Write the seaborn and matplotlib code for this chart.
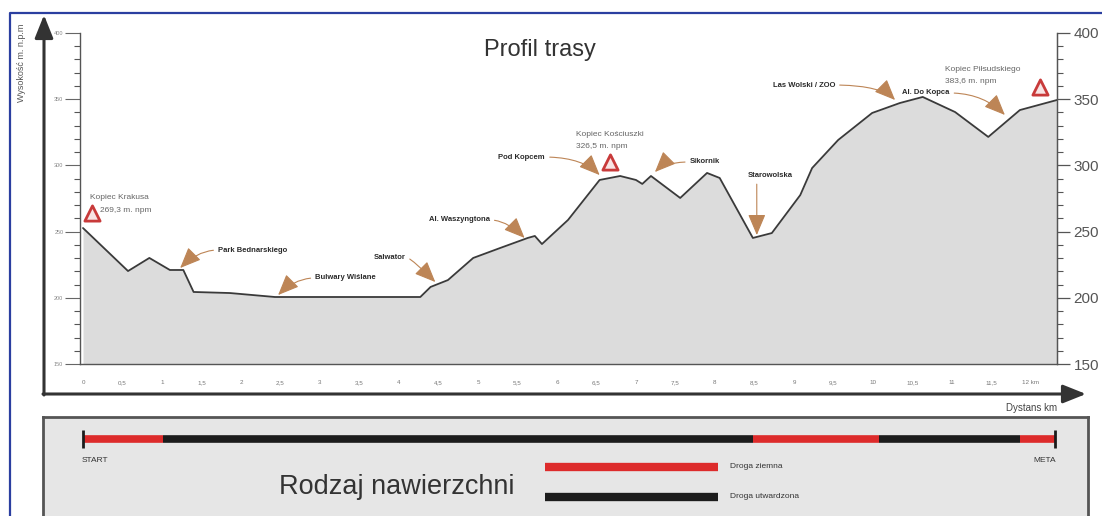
import numpy as np
import pandas as pd
import seaborn as sns
import matplotlib.pyplot as plt
from matplotlib.ticker import MultipleLocator, FixedLocator, FixedFormatter

# profil trasy: dystans [km], wysokosc [m n.p.m.]
dist_km = [0, 0.57, 0.84, 1.1, 1.27, 1.4, 1.86, 2.43, 4.27, 4.4, 4.62, 4.94,
           5.28, 5.63, 5.72, 5.81, 6.14, 6.54, 6.8, 7.0, 7.08, 7.19, 7.56,
           7.9, 8.06, 8.48, 8.72, 9.08, 9.23, 9.56, 9.99, 10.34, 10.63, 11.04,
           11.46, 11.86, 12.33]
elev_m = [252.7, 220.2, 230.1, 221, 221, 204.4, 203.6, 200.6, 200.6, 208.2,
          213.4, 230.1, 237.6, 245.2, 246.7, 240.6, 258.8, 289, 292, 289, 286,
          292, 275.4, 294.3, 290.5, 245.2, 248.9, 277.6, 298, 319.2, 339.6,
          347.1, 351.7, 340.3, 321.5, 341.8, 349.4]

# kopce
peak_names = ["Kopiec Krakusa", "Kopiec Kościuszki", "Kopiec Piłsudskiego"]
peak_heights = ["269,3 m. npm", "326,5 m. npm", "383,6 m. npm"]
peak_km = [0.11, 6.67, 12.11]
peak_mark_m = [264.0, 302.6, 359.2]

# punkty na trasie (strzalki)
place_names = ["Park Bednarskiego", "Bulwary Wiślane", "Salwator",
               "Al. Waszyngtona", "Pod Kopcem", "Sikornik", "Starowolska",
               "Las Wolski / ZOO", "Al. Do Kopca"]
place_km = [1.23, 2.47, 4.46, 5.59, 6.54, 7.24, 8.53, 10.28, 11.67]
place_m = [222.5, 202.1, 211.9, 245.2, 292.7, 295.0, 247.4, 349.4, 338.1]

# rodzaj nawierzchni
surface_start = [0, 1.01, 8.48, 10.08, 11.86]
surface_end = [1.01, 8.48, 10.08, 11.86, 12.3]
surface_type = ["Droga ziemna", "Droga utwardzona", "Droga ziemna",
                "Droga utwardzona", "Droga ziemna"]

xtick_km = [i * 0.5 for i in range(25)]
ytick_m = [150, 200, 250, 300, 350, 400]

W, H = 1102, 516
RED = "#dd2b2b"
BLACK = "#1c1c1c"
ARROW = "#bd8556"


def box(x0, y0, x1, y1):
    # pozycja osi w pikselach obrazka -> ulamki figury
    return [x0 / W, 1 - y1 / H, (x1 - x0) / W, (y1 - y0) / H]


sns.set_style("white")
plt.rcParams["font.family"] = ["Liberation Sans", "DejaVu Sans"]

fig = plt.figure(figsize=(W / 100, H / 100), dpi=100)

# --- wykres glowny ---
ax = fig.add_axes(box(80, 33, 1057, 364))
ax.set_facecolor("none")
df = pd.DataFrame({"km": dist_km, "m": elev_m})
ax.fill_between(df.km, df.m, 150, color="#dcdcdc", lw=0)
sns.lineplot(data=df, x="km", y="m", ax=ax, color="#3a3a3a", lw=1.3, sort=False)
ax.set_xlim(-0.038, 12.33)
ax.set_ylim(150, 400)
ax.set_xlabel("")
ax.set_ylabel("")

ax.spines["top"].set_visible(False)
for s in ["left", "bottom", "right"]:
    ax.spines[s].set_color("#555555")
    ax.spines[s].set_linewidth(1.0)

ax.xaxis.set_major_locator(FixedLocator(xtick_km))
xlabels = [f"{v:g}".replace(".", ",") for v in xtick_km]
xlabels[-1] = xlabels[-1] + " km"
ax.xaxis.set_major_formatter(FixedFormatter(xlabels))
ax.xaxis.set_minor_locator(MultipleLocator(0.1))
ax.tick_params(axis="x", which="major", direction="out", length=8, width=0.9,
               color="#555555", labelsize=4.5, labelcolor="#777777", pad=3.5)
ax.tick_params(axis="x", which="minor", direction="out", length=4, width=0.8,
               color="#555555")

ax.yaxis.set_major_locator(FixedLocator(ytick_m))
ax.yaxis.set_minor_locator(MultipleLocator(10))
ax.tick_params(axis="y", which="major", direction="out", length=11, width=0.8,
               color="#666666", labelsize=4, labelcolor="#888888", pad=1)
ax.tick_params(axis="y", which="minor", direction="out", length=4, width=0.8,
               color="#555555")

ax2 = ax.twinx()
ax2.set_ylim(150, 400)
ax2.yaxis.set_major_locator(FixedLocator(ytick_m))
ax2.yaxis.set_minor_locator(MultipleLocator(10))
ax2.tick_params(axis="y", which="major", direction="out", length=9, width=0.9,
                color="#555555", labelsize=11, labelcolor="#555555", pad=3)
ax2.tick_params(axis="y", which="minor", direction="out", length=4, width=0.8,
                color="#555555")
for s in ["top", "left", "bottom"]:
    ax2.spines[s].set_visible(False)
ax2.spines["right"].set_color("#555555")

# kopce - trojkaty i opisy
ax.scatter(peak_km, peak_mark_m, marker="^", s=120, facecolor="#f8e4e4",
           edgecolor="#c83a3a", linewidth=2, zorder=5)
peak_text = [(0.09, 275.4, 0.215, 266.3), (6.24, 323.0, 6.24, 313.9),
             (10.91, 372.8, 10.91, 363.7)]
for name, h, (x1, y1, x2, y2) in zip(peak_names, peak_heights, peak_text):
    ax.text(x1, y1, name, fontsize=6, color="#666666", va="center")
    ax.text(x2, y2, h, fontsize=6, color="#666666", va="center")

# punkty na trasie - tekst i strzalka
place_text = [(1.71, 236.1, "left"), (2.94, 215.0, "left"), (4.08, 230.8, "right"),
              (5.15, 258.8, "right"), (5.85, 306.3, "right"), (7.68, 302.6, "left"),
              (8.70, 292.0, "center"), (9.52, 360.7, "right"), (10.97, 354.7, "right")]
for name, x, y, (tx, ty, ha) in zip(place_names, place_km, place_m, place_text):
    if ha == "left":
        rel, conn = (0, 0.5), "angle3,angleA=0,angleB=45"
    elif ha == "right":
        rel, conn = (1, 0.5), "angle3,angleA=0,angleB=-45"
    else:
        rel, conn = (0.2, 0), "arc3,rad=0"
    ax.annotate(name, xy=(x, y), xytext=(tx, ty), ha=ha, va="center",
                fontsize=5.5, fontweight="bold", color="#2a2a2a",
                arrowprops=dict(arrowstyle="-|>,head_length=1.3,head_width=0.55",
                                color=ARROW, lw=0.8, shrinkA=1, shrinkB=0,
                                relpos=rel, connectionstyle=conn,
                                mutation_scale=10),
                zorder=6)

# --- panel nawierzchni ---
bx = fig.add_axes(box(43, 417, 1088, 520))
bx.set_facecolor("#e6e6e6")
bx.set_xlim((43 - 83) / 79, (1088 - 83) / 79)
bx.set_ylim(0, 1)
bx.set_xticks([])
bx.set_yticks([])
for s in bx.spines.values():
    s.set_color("#555555")
    s.set_linewidth(2)
surf_colors = {"Droga ziemna": RED, "Droga utwardzona": BLACK}
bar_y = 1 - (439 - 417) / 103
for a, b, t in zip(surface_start, surface_end, surface_type):
    bx.hlines(bar_y, a, b, color=surf_colors[t], lw=5.5)
bx.vlines([surface_start[0], surface_end[-1]], bar_y - 0.09, bar_y + 0.09,
          color=BLACK, lw=2)

# --- dekoracje w pikselach obrazka ---
ov = fig.add_axes([0, 0, 1, 1], zorder=10)
ov.set_xlim(0, W)
ov.set_ylim(H, 0)
ov.axis("off")
ov.patch.set_alpha(0)

# niebieska ramka
ov.plot([10, 10, W], [H, 13, 13], color="#2b3fa0", lw=1.6)

# osie ze strzalkami
arrow_kw = dict(arrowstyle="-|>,head_length=1.0,head_width=0.4", color="#333333",
                lw=2.2, shrinkA=0, shrinkB=0, mutation_scale=14)
ov.annotate("", xy=(44, 15), xytext=(44, 395), arrowprops=arrow_kw)
ov.annotate("", xy=(1086, 394), xytext=(43, 394), arrowprops=arrow_kw)

ov.text(540, 50, "Profil trasy", fontsize=17, color="#333333",
        ha="center", va="center")
ov.text(22, 63, "Wysokość m. n.p.m", fontsize=6.5, color="#555555",
        rotation=90, ha="center", va="center")
ov.text(1032, 408, "Dystans km", fontsize=7, color="#444444",
        ha="center", va="center")

ov.text(95, 460, "START", fontsize=6, color="#333333", ha="center", va="center")
ov.text(1045, 460, "META", fontsize=6, color="#333333", ha="center", va="center")
ov.text(397, 487, "Rodzaj nawierzchni", fontsize=19.5, color="#333333",
        ha="center", va="center")
ov.plot([545, 718], [467, 467], color=RED, lw=6, solid_capstyle="butt")
ov.plot([545, 718], [497, 497], color=BLACK, lw=6, solid_capstyle="butt")
ov.text(730, 467, "Droga ziemna", fontsize=6, color="#333333", va="center")
ov.text(730, 497, "Droga utwardzona", fontsize=6, color="#333333", va="center")

fig.savefig("out.png", dpi=100)
